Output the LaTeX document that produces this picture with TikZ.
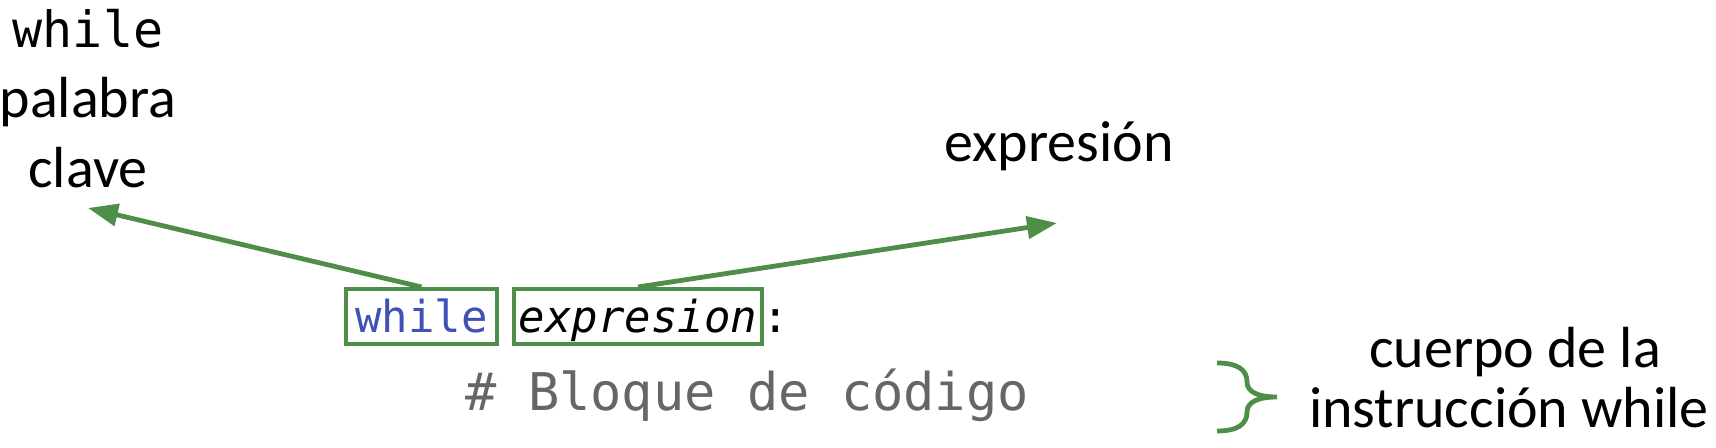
\documentclass[tikz,border=0pt]{standalone}
\usepackage{fontspec}
\setmainfont{Carlito}
\setmonofont{DejaVu Sans Mono}
\usetikzlibrary{arrows.meta,positioning}
\definecolor{markgreen}{RGB}{78,142,72}
\definecolor{kwblue}{RGB}{63,81,181}
\definecolor{cmtgray}{RGB}{102,102,102}
\tikzset{>={Triangle[length=15pt,width=11pt]},
         codebox/.style={draw=markgreen, line width=2pt, inner sep=0pt,
           minimum height=27.5pt, text height=16.5pt, text depth=0pt,
           font=\fontsize{22}{26}\selectfont\ttfamily},
         lbl/.style={anchor=base, font=\fontsize{29}{34}\selectfont},
         pointer/.style={->, color=markgreen, line width=2.4pt}}

\begin{document}
\begin{tikzpicture}[x=0.5pt,y=-0.5pt]
	  \useasboundingbox (0,0) rectangle (1716,448);
	  % code line
	  \node[codebox, minimum width=75.5pt, text=kwblue] (kw) at (421.5,316.5) {while};
	  \node[codebox, minimum width=124pt, right=6.5pt of kw] (expr) {\itshape expresion};
	  \node[anchor=base west, inner sep=0pt, font=\fontsize{22}{26}\selectfont\ttfamily] (colon) at (762,333) {:};
	  \node[anchor=base west, inner sep=0pt, text=cmtgray,
	        font=\fontsize{26}{30}\selectfont\ttfamily] (cmt) at (465,410) {\# Bloque de código};
	  % labels
	  \node[lbl, font=\fontsize{25}{30}\selectfont\ttfamily] (kwname) at (88,48) {while};
	  \node[lbl] (kwpal) at (88,118) {palabra};
	  \node[lbl] (kwclave) at (88,188) {clave};
	  \node[lbl] (exprlbl) at (1059,162) {expresión};
	  \node[lbl] (body1) at (1515,367) {cuerpo de la};
	  \node[lbl] (body2) at (1509,427) {instrucción while};
	  \coordinate (kwtip) at (88,208);
	  \coordinate (exprtip) at (1057,223);
	  % pointers
	  \draw[pointer] (kw.north) -- (kwtip);
	  \draw[pointer] (expr.north) -- (exprtip);
	  % brace
	  \draw[markgreen, line width=2.4pt]
	    (1217,363) .. controls (1238,363) and (1247,370) .. (1247,382)
	    .. controls (1247,392) and (1258,397) .. (1277,397)
	    .. controls (1258,397) and (1247,402) .. (1247,412)
	    .. controls (1247,424) and (1238,431) .. (1217,431);
	\end{tikzpicture}
\end{document}
